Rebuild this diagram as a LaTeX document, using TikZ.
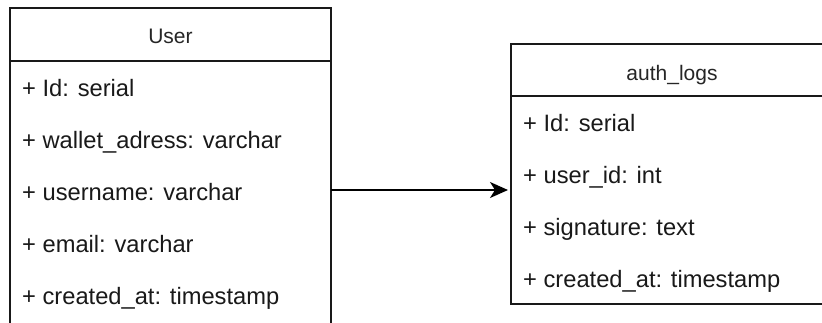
\documentclass[tikz,border=0pt]{standalone}
\usepackage{fontspec}
\setmainfont{Liberation Sans}
\usetikzlibrary{arrows.meta}
\tikzset{
  box/.style={draw=black!90, line width=1.8pt, rectangle, inner sep=0pt, outer sep=0pt},
  titletext/.style={anchor=base, inner sep=0pt, font=\fontsize{21}{25}\selectfont, text=black!85},
  rowtext/.style={anchor=base west, inner sep=0pt, font=\fontsize{23.7}{28}\selectfont, text=black!90},
  conn/.style={line width=1.8pt, draw=black, -{Stealth[length=18pt,width=16pt,inset=5pt]}, shorten >=3pt}
}
\begin{document}
\begin{tikzpicture}[x=1pt,y=-1pt]
\useasboundingbox (0,0) rectangle (822,322);
\clip (0,0) rectangle (822,322);
\fill[white] (0,0) rectangle (822,322);
% User table
\node[box, minimum width=321pt, minimum height=53pt] (uh) at (170.5,34.5) {};
\node[box, minimum width=321pt, minimum height=300pt, anchor=north] (ub) at (uh.south) {};
\node[titletext] (ut) at (170.5,43) {User};
\node[rowtext] (u1) at (22,96.5) {+ Id: serial};
\node[rowtext] (u2) at (22,148.5) {+ wallet\_adress: varchar};
\node[rowtext] (u3) at (22,200.5) {+ username: varchar};
\node[rowtext] (u4) at (22,252.5) {+ email: varchar};
\node[rowtext] (u5) at (22,304) {+ created\_at: timestamp};
% auth_logs table
\node[box, minimum width=322pt, minimum height=52pt] (ah) at (672,70) {};
\node[box, minimum width=322pt, minimum height=208pt, anchor=north] (ab) at (ah.south) {};
\node[titletext] (at) at (672,80) {auth\_logs};
\node[rowtext] (a1) at (523,131.5) {+ Id: serial};
\node[rowtext] (a2) at (523,183.5) {+ user\_id: int};
\node[rowtext] (a3) at (523,235.5) {+ signature: text};
\node[rowtext] (a4) at (523,287.5) {+ created\_at: timestamp};
% connector
\coordinate (ay) at (0,190);
\draw[conn] (ub.east |- ay) -- (ab.west |- ay);
\end{tikzpicture}
\end{document}
